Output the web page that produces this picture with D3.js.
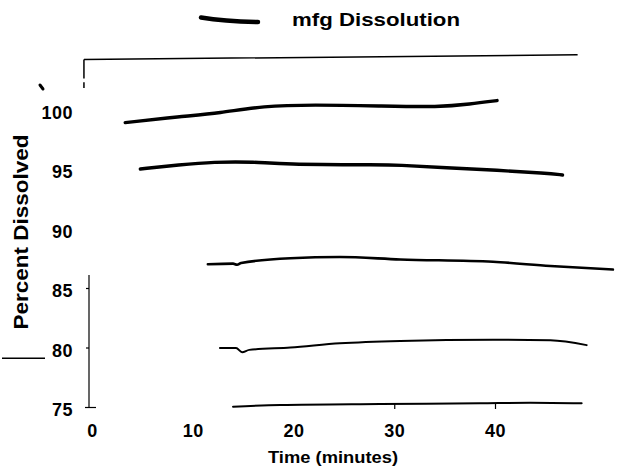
<!DOCTYPE html>
<html><head><meta charset="utf-8">
<script src="https://cdn.jsdelivr.net/npm/d3@7/dist/d3.min.js"></script>
<style>
html,body{margin:0;padding:0;background:#fff;}
svg{display:block;}
text{font-family:"Liberation Sans",Arial,Helvetica,sans-serif;font-weight:bold;fill:#000;}
</style></head>
<body>
<script>
// ---- data ----
const xTicks = [0, 10, 20, 30, 40];
const yTicks = [75, 80, 85, 90, 95, 100];
const legendLabel = "mfg Dissolution";
const xTitle = "Time (minutes)";
const yTitle = "Percent Dissolved";

const s1T = [3.3, 8.7, 12.7, 17.0, 21.9, 28.6, 34.5, 37.5, 40.2];
const s1V = [98.9, 99.4, 99.7, 100.3, 100.4, 100.3, 100.2, 100.45, 100.75];

const s2T = [4.8, 8.7, 12.0, 16.3, 18.7, 28.6, 30.2, 35.2, 40.2, 45.1, 46.7];
const s2V = [95.0, 95.35, 95.6, 95.6, 95.4, 95.35, 95.35, 95.1, 94.9, 94.65, 94.5];

const s3T = [11.5, 14.0, 14.4, 14.8, 19.7, 24.6, 30.6, 39.8, 45.5, 51.7];
const s3V = [87.0, 87.05, 86.95, 87.1, 87.5, 87.6, 87.4, 87.2, 86.85, 86.55];

const s4T = [12.7, 14.3, 14.9, 15.6, 19.7, 24.6, 30.6, 39.8, 45.5, 49.1];
const s4V = [79.95, 79.95, 79.6, 79.8, 80.0, 80.35, 80.55, 80.65, 80.6, 80.2];

const s5T = [14.0, 18.7, 28.6, 38.5, 43.5, 48.6];
const s5V = [75.03, 75.17, 75.25, 75.31, 75.36, 75.31];

const W = 617, H = 470;
const svg = d3.select("body").append("svg").attr("width", W).attr("height", H);

const x = d3.scaleLinear().domain([0, 40]).range([92, 495]);
const y = d3.scaleLinear().domain([75, 100]).range([407, 109.5]);

// ---- lines ----
const smooth = d3.line().x(d => x(d[0])).y(d => y(d[1])).curve(d3.curveBasis);
const mono = d3.line().x(d => x(d[0])).y(d => y(d[1])).curve(d3.curveMonotoneX);
const series = [
  {t: s1T, v: s1V, w: 3.4, gen: smooth},
  {t: s2T, v: s2V, w: 3.4, gen: smooth},
  {t: s3T, v: s3V, w: 2.6, gen: mono},
  {t: s4T, v: s4V, w: 2.0, gen: mono},
  {t: s5T, v: s5V, w: 2.0, gen: mono}
];
svg.append("g").selectAll("path").data(series).join("path")
  .attr("d", d => d.gen(d.t.map((t, i) => [t, d.v[i]])))
  .attr("fill", "none").attr("stroke", "#000")
  .attr("stroke-width", d => d.w).attr("stroke-linecap", "round");

// ---- x axis (ticks + labels only, as in the scan) ----
const xa = svg.append("g").attr("transform", `translate(0,${y(75) - 3})`)
  .call(d3.axisBottom(x).tickValues(xTicks).tickSize(5).tickFormat(d3.format("d")));
xa.select(".domain").remove();
xa.selectAll(".tick line").attr("stroke", "#000").attr("stroke-width", 1.2)
  .attr("opacity", d => d >= 30 ? 1 : 0);
xa.selectAll(".tick text").attr("y", 27).attr("dy", "0.35em")
  .style("font-size", "18px").style("letter-spacing", "0.5px").attr("fill", "#000");

// ---- y axis (partial, lower part visible) ----
const ya = svg.append("g").attr("transform", `translate(89,0)`)
  .call(d3.axisLeft(y).tickValues(yTicks).tickSize(3).tickFormat(d3.format("d")));
ya.select(".domain").remove();
ya.selectAll(".tick line").attr("stroke", "#000").attr("stroke-width", 1.2)
  .attr("opacity", d => d <= 85 ? 1 : 0)
  .attr("x2", d => d === 75 ? -4 : -3).attr("x1", d => d === 75 ? 7 : 0);
ya.selectAll(".tick text").attr("x", -16).attr("dy", "0.35em")
  .attr("transform", "translate(0,2.5)")
  .style("font-size", "18px").style("letter-spacing", "0.5px").attr("fill", "#000");
svg.append("line").attr("x1", 89).attr("x2", 89)
  .attr("y1", y(86.1)).attr("y2", y(75))
  .attr("stroke", "#000").attr("stroke-width", 1.2);

// ---- frame remnants from the scan ----
const fx = x(-0.8);
svg.append("path")
  .attr("d", `M${fx},${y(104.2)} L${fx},${y(102.6)} M${fx},${y(102.3)} L${fx},${y(101.8)} M${fx},${y(104.2)} L${x(48.2)},${y(104.6)}`)
  .attr("fill", "none").attr("stroke", "#000").attr("stroke-width", 1.5);
svg.append("line").attr("x1", 2).attr("x2", 45).attr("y1", y(79.1)).attr("y2", y(79.1))
  .attr("stroke", "#000").attr("stroke-width", 1.5);
svg.append("line").attr("x1", 40).attr("y1", 85).attr("x2", 43).attr("y2", 89)
  .attr("stroke", "#000").attr("stroke-width", 3).attr("stroke-linecap", "round");

// ---- legend ----
svg.append("path").attr("d", "M201,17.5 Q225,21.5 258,22")
  .attr("fill", "none").attr("stroke", "#000").attr("stroke-width", 4.5).attr("stroke-linecap", "round");
svg.append("text").attr("x", 292).attr("y", 26).style("font-size", "19px")
  .attr("textLength", 168).attr("lengthAdjust", "spacingAndGlyphs").text(legendLabel);

// ---- axis titles ----
svg.append("text").attr("x", 333).attr("y", 457).attr("dy", "0.35em")
  .attr("text-anchor", "middle").style("font-size", "17px")
  .attr("textLength", 130).attr("lengthAdjust", "spacingAndGlyphs").text(xTitle);
svg.append("text").attr("transform", "translate(21,232) rotate(-90)")
  .attr("dy", "0.35em").attr("text-anchor", "middle").style("font-size", "21px")
  .attr("textLength", 195).attr("lengthAdjust", "spacingAndGlyphs").text(yTitle);
</script>
</body></html>
